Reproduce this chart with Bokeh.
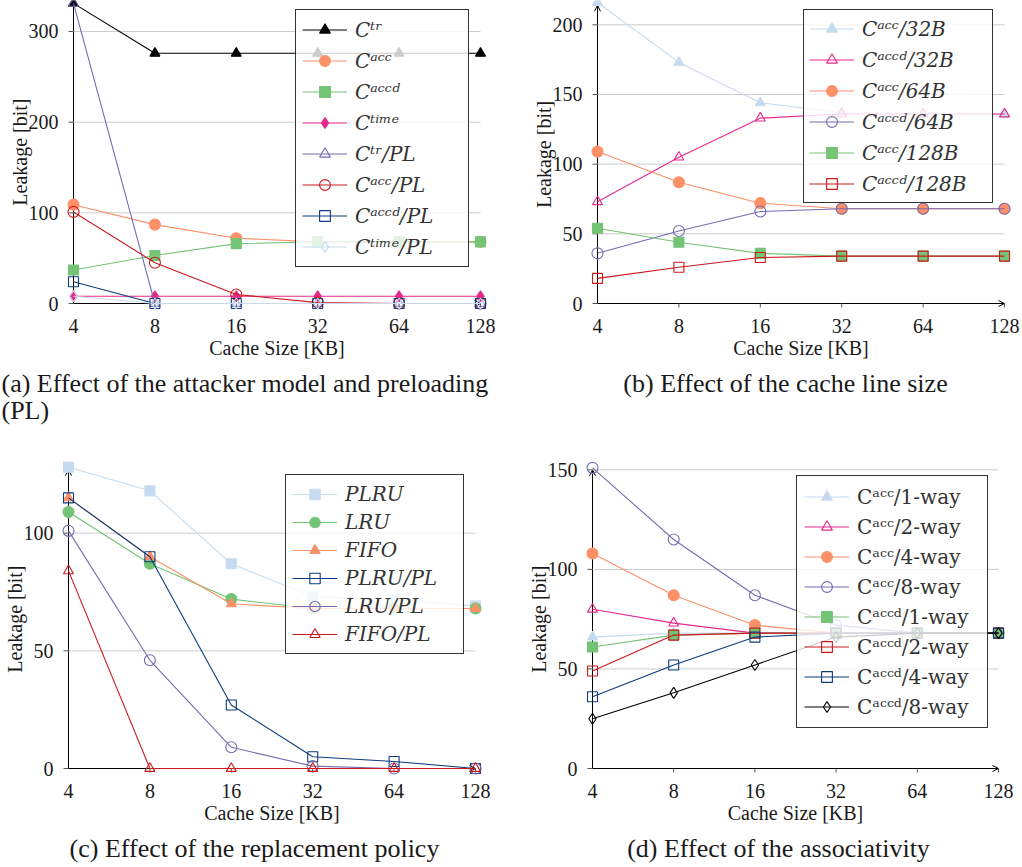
import math
from bokeh.plotting import figure
from bokeh.models import (Range1d, Legend, LegendItem, Arrow, OpenHead, ColumnDataSource)
from bokeh.core.properties import value
from bokeh.layouts import row, column
from bokeh.embed import file_html
from bokeh.resources import INLINE

SERIF = "Liberation Serif"
LEGEND_FONT = "DejaVu Serif"
TXT = "#1a1a1a"

# ---------------- data ----------------
sizes = [4, 8, 16, 32, 64, 128]
size_labels = ["4", "8", "16", "32", "64", "128"]

# (a) attacker model and preloading
a_labels = ["Cᵗʳ", "Cᵃᶜᶜ", "Cᵃᶜᶜᵈ", "Cᵗⁱᵐᵉ", "Cᵗʳ/PL", "Cᵃᶜᶜ/PL", "Cᵃᶜᶜᵈ/PL", "Cᵗⁱᵐᵉ/PL"]
a_ctr = [331, 276, 276, 276, 276, 276]
a_cacc = [109, 87, 72, 68, 68, 68]
a_caccd = [37, 53, 66, 68, 68, 68]
a_ctime = [8, 8, 8, 8, 8, 8]
a_ctr_pl = [331, 0, 0, 0, 0, 0]
a_cacc_pl = [101, 45, 10, 1, 0, 0]
a_caccd_pl = [24, 0, 0, 0, 0, 0]
a_ctime_pl = [8, 0, 0, 0, 0, 0]
a_yticks = [0, 100, 200, 300]

# (b) cache line size
b_labels = ["Cᵃᶜᶜ/32B", "Cᵃᶜᶜᵈ/32B", "Cᵃᶜᶜ/64B", "Cᵃᶜᶜᵈ/64B", "Cᵃᶜᶜ/128B", "Cᵃᶜᶜᵈ/128B"]
b_acc32 = [216, 173, 144, 137, 136, 136]
b_accd32 = [73, 105, 133, 136, 136, 136]
b_acc64 = [109, 87, 72, 68, 68, 68]
b_accd64 = [36, 52, 66, 68, 68, 68]
b_acc128 = [54, 44, 36, 34, 34, 34]
b_accd128 = [18, 26, 33, 34, 34, 34]
b_yticks = [0, 50, 100, 150, 200]

# (c) replacement policy
c_labels = ["PLRU", "LRU", "FIFO", "PLRU/PL", "LRU/PL", "FIFO/PL"]
c_plru = [128, 118, 87, 73, 72, 69]
c_lru = [109, 87, 72, 68, 68, 68]
c_fifo = [115, 90, 70, 68, 68, 68]
c_plru_pl = [115, 90, 27, 5, 3, 0]
c_lru_pl = [101, 46, 9, 1, 0, 0]
c_fifo_pl = [84, 0, 0, 0, 0, 0]
c_yticks = [0, 50, 100]

# (d) associativity
d_labels = ["Cᵃᶜᶜ/1-way", "Cᵃᶜᶜ/2-way", "Cᵃᶜᶜ/4-way", "Cᵃᶜᶜ/8-way",
            "Cᵃᶜᶜᵈ/1-way", "Cᵃᶜᶜᵈ/2-way", "Cᵃᶜᶜᵈ/4-way", "Cᵃᶜᶜᵈ/8-way"]
d_acc1 = [66, 68, 68, 68, 68, 68]
d_acc2 = [80, 73, 68, 68, 68, 68]
d_acc4 = [108, 87, 72, 68, 68, 68]
d_acc8 = [151, 115, 87, 72, 68, 68]
d_accd1 = [61, 67, 68, 68, 68, 68]
d_accd2 = [49, 67, 68, 68, 68, 68]
d_accd4 = [36, 52, 66, 68, 68, 68]
d_accd8 = [25, 38, 52, 66, 68, 68]
d_yticks = [0, 50, 100, 150]

# ---------------- styles ----------------
BLACK = "#000000"
ORANGE = "#fc9068"
GREEN = "#74c476"
MAGENTA = "#e7298a"
PURPLE = "#756bb1"
RED = "#cb181d"
NAVY = "#0b3c7d"
LBLUE = "#c6dbef"
GRID = "#cccccc"


def add_series(p, ys, color, marker, filled, msize):
    src = ColumnDataSource(dict(x=sizes, y=ys))
    ln = p.line("x", "y", source=src, line_color=color, line_width=1.1)
    mk = p.scatter("x", "y", source=src, marker=marker, size=msize,
                   line_color=color, line_width=1.1,
                   fill_color=color if filled else None)
    return [ln, mk]


def txt(p, x, y, s, size="20px", **kw):
    p.text(x=x, y=y, text=s, text_font=value(SERIF), text_font_size=size,
           text_color=TXT, text_baseline="middle", **kw)


def make_panel(cfg):
    W, H = cfg["size"]
    x0, y0 = cfg["origin"]
    ppo, ppu = cfg["ppo"], cfg["ppu"]
    xr = (sizes[0] * 2 ** (-x0 / ppo), sizes[0] * 2 ** ((W - x0) / ppo))
    yr = (-(H - y0) / ppu, y0 / ppu)
    p = figure(width=W, height=H, x_axis_type="log",
               x_axis_location=None, y_axis_location=None,
               x_range=Range1d(*xr), y_range=Range1d(*yr), min_border=0,
               output_backend="svg", toolbar_location=None)
    p.outline_line_color = None
    p.grid.visible = False

    yt = cfg["yticks"]
    gy = [t for t in yt if t != 0]
    # grid lines
    p.segment(x0=[sizes[0]] * len(gy), x1=[sizes[-1]] * len(gy), y0=gy, y1=gy,
              line_color=GRID, line_width=1)
    # tick marks
    p.ray(x=[sizes[0]] * len(yt), y=yt, length=5, length_units="screen",
          angle=math.pi, line_color="#555555", line_width=1)
    p.ray(x=sizes[1:], y=[0] * (len(sizes) - 1), length=4, length_units="screen",
          angle=-math.pi / 2, line_color="#555555", line_width=1)
    # axis lines with arrows
    p.add_layout(Arrow(end=OpenHead(size=6, line_width=1, line_color=BLACK),
                       x_start=sizes[0], y_start=0, x_end=sizes[-1], y_end=0,
                       line_color=BLACK, line_width=1, level="underlay"))
    p.add_layout(Arrow(end=OpenHead(size=6, line_width=1, line_color=BLACK),
                       x_start=sizes[0], y_start=0, x_end=sizes[0], y_end=cfg["ytop"],
                       line_color=BLACK, line_width=1, level="underlay"))

    # tick labels
    txt(p, sizes, [0] * len(sizes), size_labels, y_offset=22, text_align="center")
    txt(p, [sizes[0]] * len(yt), yt, [str(t) for t in yt], x_offset=-15,
        y_offset=0, text_align="right")
    # axis labels
    txt(p, [sizes[0] * 2 ** (-54 / ppo)], [cfg["ytop"] / 2], ["Leakage [bit]"],
        angle=math.pi / 2, text_align="center")
    txt(p, [math.sqrt(sizes[0] * sizes[-1])], [0], ["Cache Size [KB]"], y_offset=44,
        text_align="center")
    # caption
    for (dx, dy, s, align) in cfg["captions"]:
        txt(p, [sizes[0]], [0], [s], size="26px", x_offset=dx, y_offset=dy,
            text_align=align)

    items = []
    for lab, (ys, color, marker, filled, ms) in zip(cfg["labels"], cfg["series"]):
        rs = add_series(p, ys, color, marker, filled, ms)
        items.append(LegendItem(label=lab, renderers=rs))

    lg = cfg["legend"]
    legend = Legend(items=items, location=lg["loc"], margin=0,
                    padding=lg["pad"], spacing=lg["sp"],
                    glyph_width=45, glyph_height=lg["h"], label_height=lg["h"],
                    label_width=lg["w"], label_standoff=8,
                    label_text_font=LEGEND_FONT, label_text_font_size="20px",
                    label_text_font_style=lg["style"], label_text_color="#333333",
                    border_line_color=BLACK, border_line_alpha=0.8, border_line_width=1,
                    background_fill_color="white", background_fill_alpha=0.8)
    p.add_layout(legend)
    return p


fa = make_panel(dict(
    size=(515, 430), origin=(73, 303), ppo=81.4, ppu=0.9067,
    yticks=a_yticks, ytop=334, labels=a_labels,
    series=[(a_ctr, BLACK, "triangle", True, 10),
            (a_cacc, ORANGE, "circle", True, 11),
            (a_caccd, GREEN, "square", True, 10),
            (a_ctime, MAGENTA, "diamond", True, 11),
            (a_ctr_pl, PURPLE, "triangle", False, 10),
            (a_cacc_pl, RED, "circle", False, 11),
            (a_caccd_pl, NAVY, "square", False, 10),
            (a_ctime_pl, LBLUE, "diamond", False, 11)],
    legend=dict(loc=(295, 163), pad=6, sp=4, h=27, w=107, style="italic"),
    captions=[(-72, 80, "(a) Effect of the attacker model and preloading", "left"),
              (-72, 107, "(PL)", "left")]))

fb = make_panel(dict(
    size=(505, 430), origin=(82, 303), ppo=81.4, ppu=1.3935,
    yticks=b_yticks, ytop=214, labels=b_labels,
    series=[(b_acc32, LBLUE, "triangle", True, 10),
            (b_accd32, MAGENTA, "triangle", False, 10),
            (b_acc64, ORANGE, "circle", True, 11),
            (b_accd64, PURPLE, "circle", False, 11),
            (b_acc128, GREEN, "square", True, 10),
            (b_accd128, RED, "square", False, 10)],
    legend=dict(loc=(288, 227), pad=5, sp=4, h=27, w=125, style="italic"),
    captions=[(188, 80, "(b) Effect of the cache line size", "center")]))

fc = make_panel(dict(
    size=(515, 435), origin=(68, 338), ppo=81.4, ppu=2.353,
    yticks=c_yticks, ytop=127, labels=c_labels,
    series=[(c_plru, LBLUE, "square", True, 10),
            (c_lru, GREEN, "circle", True, 11),
            (c_fifo, ORANGE, "triangle", True, 10),
            (c_plru_pl, NAVY, "square", False, 10),
            (c_lru_pl, PURPLE, "circle", False, 11),
            (c_fifo_pl, RED, "triangle", False, 10)],
    legend=dict(loc=(285, 211), pad=6, sp=2, h=26, w=112, style="italic"),
    captions=[(186, 80, "(c) Effect of the replacement policy", "center")]))

fd = make_panel(dict(
    size=(505, 435), origin=(77, 338), ppo=81.2, ppu=1.991,
    yticks=d_yticks, ytop=150, labels=d_labels,
    series=[(d_acc1, LBLUE, "triangle", True, 10),
            (d_acc2, MAGENTA, "triangle", False, 10),
            (d_acc4, ORANGE, "circle", True, 11),
            (d_acc8, PURPLE, "circle", False, 11),
            (d_accd1, GREEN, "square", True, 10),
            (d_accd2, RED, "square", False, 10),
            (d_accd4, NAVY, "square", False, 10),
            (d_accd8, BLACK, "diamond", False, 11)],
    legend=dict(loc=(281, 137), pad=7, sp=3, h=27, w=123, style="normal"),
    captions=[(186, 80, "(d) Effect of the associativity", "center")]))

root = column(row(fa, fb), row(fc, fd))

open("out.html", "w").write(file_html(root, INLINE))
